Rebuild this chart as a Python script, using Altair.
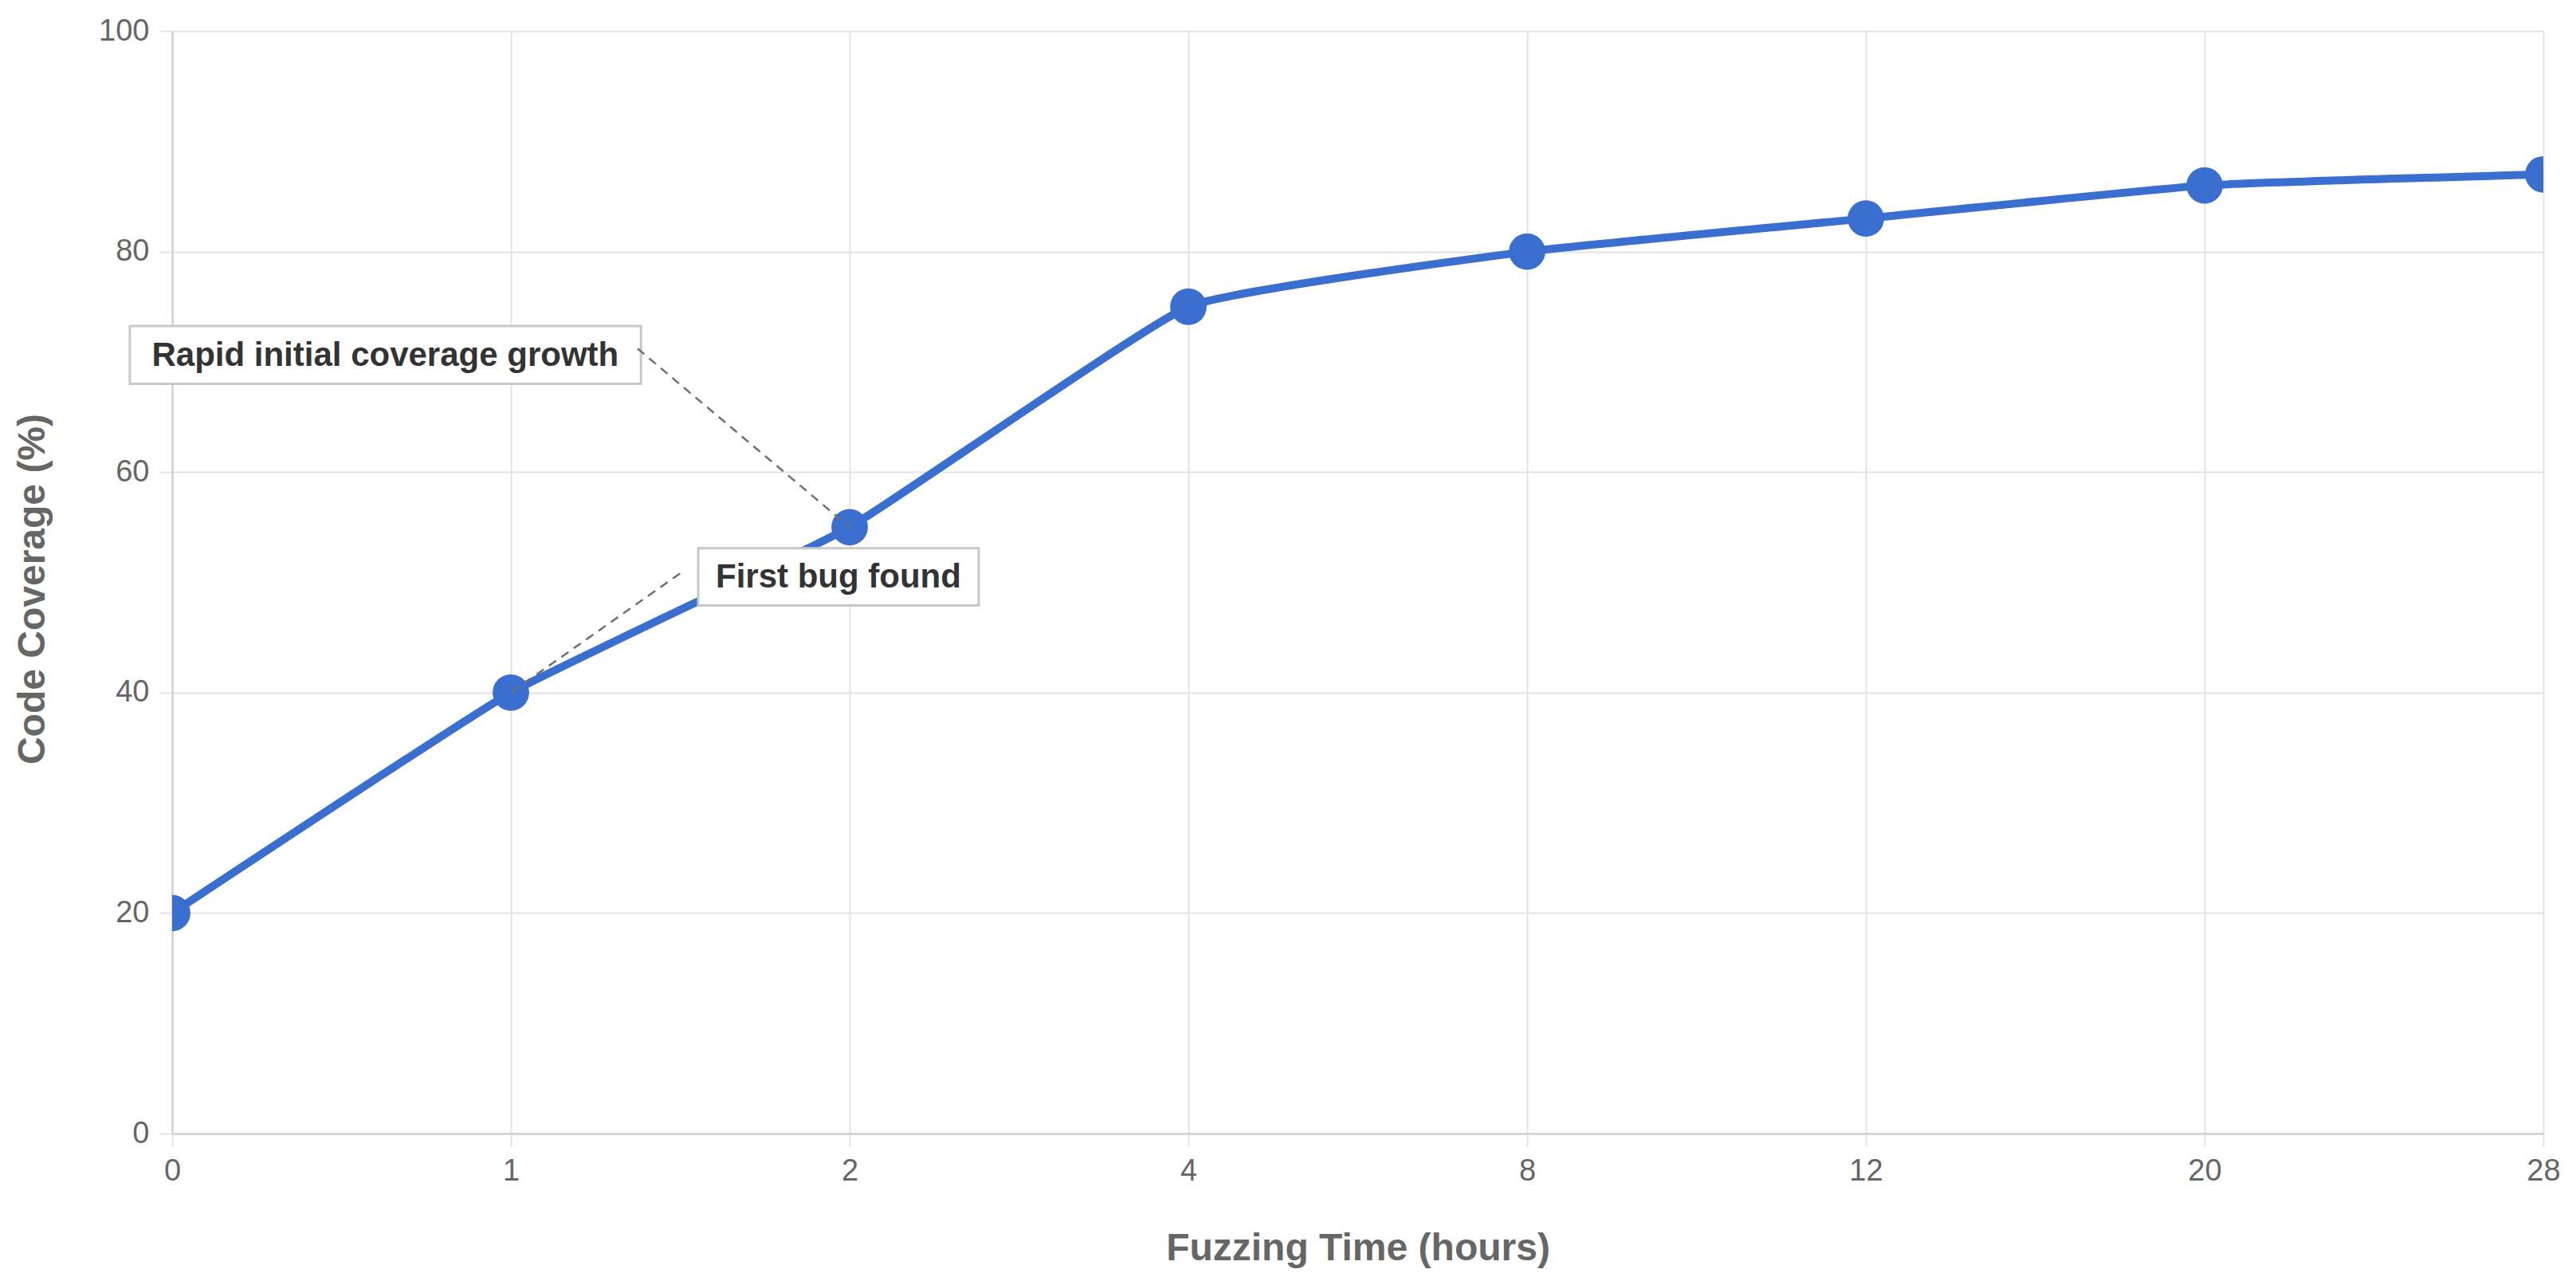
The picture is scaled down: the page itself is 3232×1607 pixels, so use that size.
import altair as alt
import pandas as pd

# ---- data ----
hours = ["0", "1", "2", "4", "8", "12", "20", "28"]
coverage = [20, 40, 55, 75, 80, 83, 86, 87]

# annotation labels (positions in data units: x = category index, y = coverage %)
ann_text = ["Rapid initial coverage growth", "First bug found"]
ann_x = [0.629, 1.967]
ann_y = [70.6, 50.5]
box_x1 = [-0.125, 1.553]
box_x2 = [1.384, 2.381]
box_y1 = [68.0, 47.9]
box_y2 = [73.25, 53.1]
# dashed connector lines: from label box to data point
con_x1 = [1.374, 1.499]
con_y1 = [71.2, 50.8]
con_x2 = [2, 1]
con_y2 = [55, 40]

df = pd.DataFrame({"idx": list(range(len(hours))), "hours": hours, "coverage": coverage})
boxes = pd.DataFrame({"x1": box_x1, "x2": box_x2, "y1": box_y1, "y2": box_y2})
texts = pd.DataFrame({"x": ann_x, "y": ann_y, "t": ann_text})
cons = pd.DataFrame({"x1": con_x1, "y1": con_y1, "x2": con_x2, "y2": con_y2})

W, H = 2975, 1383
BLUE = "#3a6ecf"
GRID = "#e4e4e4"
FONT = "Liberation Sans"

label_array = "[" + ",".join("'" + h + "'" for h in hours) + "]"

xscale = alt.Scale(domain=[0, len(hours) - 1], nice=False, zero=False)
yscale = alt.Scale(domain=[0, 100], nice=False)

xaxis = alt.Axis(
    title="Fuzzing Time (hours)",
    values=list(range(len(hours))),
    labelExpr=label_array + "[datum.value]",
    grid=True, gridColor=GRID, gridWidth=2,
    tickSize=16, tickColor=GRID, tickWidth=2,
    domainColor="#d6d6d6", domainWidth=3,
    labelFont=FONT, labelFontSize=38, labelColor="#666666", labelPadding=12,
    labelFlush=False,
    titleFont=FONT, titleFontSize=48, titleFontWeight="bold", titleColor="#666666",
    titleY=144, titleBaseline="middle",
)
yaxis = alt.Axis(
    title="Code Coverage (%)",
    values=[0, 20, 40, 60, 80, 100],
    grid=True, gridColor=GRID, gridWidth=2,
    tickSize=16, tickColor=GRID, tickWidth=2,
    domainColor="#d6d6d6", domainWidth=3,
    labelFont=FONT, labelFontSize=38, labelColor="#666666", labelPadding=13,
    titleFont=FONT, titleFontSize=48, titleFontWeight="bold", titleColor="#666666",
    titleAngle=-90, titleX=-175, titleY=H / 2 + 8, titleBaseline="middle",
)

base = alt.Chart(df)

line = base.mark_line(
    color=BLUE, strokeWidth=10, interpolate="cardinal", tension=0.65, clip=True
).encode(
    x=alt.X("idx:Q", scale=xscale, axis=xaxis),
    y=alt.Y("coverage:Q", scale=yscale, axis=yaxis),
)
points = base.mark_circle(color=BLUE, opacity=1, size=2100, clip=True).encode(
    x=alt.X("idx:Q", scale=xscale),
    y=alt.Y("coverage:Q", scale=yscale),
)
box = alt.Chart(boxes).mark_rect(fill="white", stroke="#c8c8c8", strokeWidth=3).encode(
    x=alt.X("x1:Q", scale=xscale), x2="x2:Q",
    y=alt.Y("y1:Q", scale=yscale), y2="y2:Q",
)
conn = alt.Chart(cons).mark_rule(color="#707070", strokeWidth=2.5, strokeDash=[11, 8]).encode(
    x=alt.X("x1:Q", scale=xscale), x2="x2:Q",
    y=alt.Y("y1:Q", scale=yscale), y2="y2:Q",
)
label = alt.Chart(texts).mark_text(
    font=FONT, fontSize=42, fontWeight="bold", color="#333333", align="center", baseline="middle"
).encode(
    x=alt.X("x:Q", scale=xscale),
    y=alt.Y("y:Q", scale=yscale),
    text="t:N",
)

chart = (
    alt.layer(line, points, box, conn, label)
    .properties(
        width=W, height=H,
        autosize=alt.AutoSizeParams(type="none"),
        padding={"left": 208, "top": 31, "right": 33, "bottom": 177},
        background="white",
    )
    .configure_view(strokeWidth=0)
)

chart.save("out.html", embed_options={"renderer": "svg", "actions": False})
